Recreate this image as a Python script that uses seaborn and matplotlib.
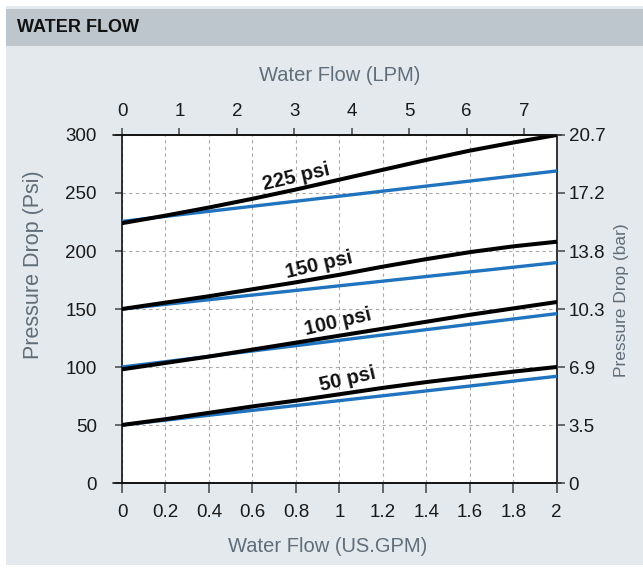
import matplotlib
matplotlib.use("Agg")
import matplotlib.pyplot as plt
import seaborn as sns
import pandas as pd
from matplotlib.patches import Rectangle

# ---- data ----
gpm_points = [0.0, 0.2, 0.4, 0.6, 0.8, 1.0, 1.2, 1.4, 1.6, 1.8, 2.0]
black_225 = [224, 230.5, 237.5, 245, 253, 261.5, 270, 278.5, 286.5, 293.5, 300]
black_150 = [150, 155.5, 161, 167, 173, 179.5, 186.5, 193, 199, 204, 208]
black_100 = [98, 103.5, 109, 115, 121, 127, 133, 139, 145, 150.5, 156]
black_50 = [50, 55, 60.5, 66, 71, 76.5, 82, 87, 91.5, 96, 100]

blue_gpm = [0.0, 2.0]
blue_225 = [225.5, 269]
blue_150 = [150, 190]
blue_100 = [100, 146]
blue_50 = [50, 92]

series_names = ["225 psi", "150 psi", "100 psi", "50 psi"]
label_x = [0.80, 0.905, 0.995, 1.04]
label_y = [264, 188, 139, 89]

gpm_ticks = [0, 0.2, 0.4, 0.6, 0.8, 1, 1.2, 1.4, 1.6, 1.8, 2]
gpm_ticklabels = ["0", "0.2", "0.4", "0.6", "0.8", "1", "1.2", "1.4", "1.6", "1.8", "2"]
lpm_ticks = [0, 1, 2, 3, 4, 5, 6, 7]
psi_ticks = [0, 50, 100, 150, 200, 250, 300]
bar_ticklabels = ["0", "3.5", "6.9", "10.3", "13.8", "17.2", "20.7"]

LPM_PER_GPM = 3.785

# ---- long tables ----
black_df = pd.concat([
    pd.DataFrame({"gpm": gpm_points, "psi": v, "series": n})
    for n, v in zip(series_names, [black_225, black_150, black_100, black_50])
])
blue_df = pd.concat([
    pd.DataFrame({"gpm": blue_gpm, "psi": v, "series": n})
    for n, v in zip(series_names, [blue_225, blue_150, blue_100, blue_50])
])

sns.set_style("white")
plt.rcParams["font.family"] = ["Liberation Sans", "DejaVu Sans"]

W, H = 643, 571
fig = plt.figure(figsize=(W / 100, H / 100), dpi=100)
fig.patch.set_facecolor("white")

# background panel and header band
fig.patches.append(Rectangle((6 / W, 6 / H), 1 - 6 / W, (565 - 6) / H,
                             transform=fig.transFigure, facecolor="#e4e9ed",
                             edgecolor="none", zorder=-10))
fig.patches.append(Rectangle((6 / W, (571 - 46) / H), 1 - 6 / W, 37 / H,
                             transform=fig.transFigure, facecolor="#bcc6cc",
                             edgecolor="none", zorder=-9))
fig.text(17 / W, (571 - 27) / H, "WATER FLOW", fontsize=13, fontweight="bold",
         color="#111111", va="center", ha="left")

left, right, bottom, top = 122 / W, 556.7 / W, (571 - 483) / H, (571 - 135) / H
ax = fig.add_axes([left, bottom, right - left, top - bottom])
ax.set_facecolor("white")

black_pal = {n: "#000000" for n in series_names}
blue_pal = {n: "#1f73bf" for n in series_names}
sns.lineplot(data=blue_df, x="gpm", y="psi", hue="series", palette=blue_pal,
             linewidth=2.4, ax=ax, legend=False, zorder=3)
sns.lineplot(data=black_df, x="gpm", y="psi", hue="series", palette=black_pal,
             linewidth=2.9, ax=ax, legend=False, zorder=4)

ax.set_xlim(0, 2)
ax.set_ylim(0, 300)
ax.set_xticks(gpm_ticks)
ax.set_xticklabels(gpm_ticklabels)
ax.set_yticks(psi_ticks)

ax.grid(True, color="#a8a8a8", linestyle=(0, (3, 3)), linewidth=0.8)
for s in ax.spines.values():
    s.set_color("#111111")
    s.set_linewidth(1.2)

tick_fs = 13.5
ax.tick_params(axis="x", which="major", direction="out", length=7, width=1.1,
               color="#444444", labelsize=tick_fs, labelcolor="#1a1a1a", pad=8,
               bottom=True)
ax.tick_params(axis="y", which="major", direction="out", length=5, width=1.1,
               color="#444444", labelsize=tick_fs, labelcolor="#1a1a1a", pad=13,
               left=True)

# extended axis lines (as in the reference)
ax.axhline(0, xmin=-0.02, xmax=1.01, color="#111111", lw=1.2, clip_on=False, zorder=5)
ax.axhline(300, xmin=-0.02, xmax=1.01, color="#111111", lw=1.2, clip_on=False, zorder=5)

# top axis (LPM)
sec = ax.secondary_xaxis("top", functions=(lambda g: g * LPM_PER_GPM,
                                           lambda l: l / LPM_PER_GPM))
sec.set_xticks(lpm_ticks)
sec.tick_params(direction="out", length=5, width=1.1, color="#444444",
                labelsize=tick_fs, labelcolor="#1a1a1a", pad=5.5)
sec.spines["top"].set_visible(False)

# right axis (bar)
ax2 = ax.twinx()
ax2.set_ylim(0, 300)
ax2.set_yticks(psi_ticks)
ax2.set_yticklabels(bar_ticklabels)
ax2.tick_params(axis="y", direction="out", length=5.5, width=1.1, color="#444444",
                labelsize=tick_fs, labelcolor="#1a1a1a", pad=3, right=True)
for s in ax2.spines.values():
    s.set_visible(False)
ax2.grid(False)

label_color = "#5f6e7a"
ax.set_xlabel("Water Flow (US.GPM)", fontsize=14.5, color=label_color)
ax.xaxis.set_label_coords((328 - 122) / 434.7, (483 - 537) / 348)
ax.set_ylabel("Pressure Drop (Psi)", fontsize=15.5, color=label_color)
ax.yaxis.set_label_coords((44 - 122) / 434.7, (483 - 265) / 348)
ax2.set_ylabel("Pressure Drop (bar)", fontsize=12.5, color=label_color)
ax2.yaxis.set_label_coords((614 - 122) / 434.7, (483 - 300) / 348)
sec.set_xlabel("Water Flow (LPM)", fontsize=14.5, color=label_color, labelpad=16)

for n, x, y in zip(series_names, label_x, label_y):
    ax.text(x, y, n, fontsize=14.5, fontweight="bold", rotation=13,
            rotation_mode="anchor", ha="center", va="center", color="#111111",
            zorder=6)

fig.savefig("out.png", dpi=100, facecolor=fig.get_facecolor())
